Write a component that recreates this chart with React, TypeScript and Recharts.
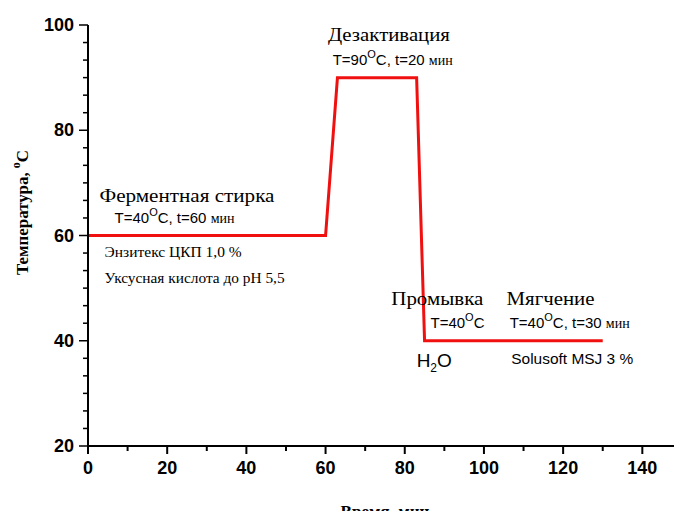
import React from "react";
import { LineChart, Line, XAxis, YAxis, ReferenceDot, Label } from "recharts";

// режим обработки: время (мин) и температура (°C)
const TIME = [0, 60, 63, 83, 85, 130];
const TEMP = [60, 60, 90, 90, 40, 40];

const X_TICKS = [0, 10, 20, 30, 40, 50, 60, 70, 80, 90, 100, 110, 120, 130, 140];
const X_MAJOR = [0, 20, 40, 60, 80, 100, 120, 140];
const Y_MAJOR = [20, 40, 60, 80, 100];
const Y_MINOR_PER_MAJOR = 6;

const Y_TICKS: number[] = [];
Y_MAJOR.forEach((v, i) => {
  if (i === 0) {
    Y_TICKS.push(v);
    return;
  }
  const prev = Y_MAJOR[i - 1];
  for (let k = 1; k <= Y_MINOR_PER_MAJOR; k++) {
    Y_TICKS.push(prev + ((v - prev) * k) / Y_MINOR_PER_MAJOR);
  }
});

const data = TIME.map((t, i) => ({ t, temp: TEMP[i] }));

const SERIF = "'Liberation Serif', 'Times New Roman', serif";
const SANS = "'Liberation Sans', Arial, sans-serif";

type Seg = { text: string; font?: string; size?: number; dy?: number };

// подписи этапов (x, y в координатах графика), w - ширина текста в px
const ANNOTATIONS: { x: number; y: number; w?: number; segs: Seg[] }[] = [
  { x: 60.6, y: 96.9, w: 122, segs: [{ text: "Дезактивация", font: SERIF, size: 19 }] },
  {
    x: 61.8,
    y: 92.4,
    segs: [
      { text: "T=90" },
      { text: "O", size: 11, dy: -7 },
      { text: "C, t=20 ", dy: 7 },
      { text: "мин", font: SERIF, size: 14 },
    ],
  },
  { x: 2.9, y: 66.3, w: 175, segs: [{ text: "Ферментная стирка", font: SERIF, size: 19 }] },
  {
    x: 6.7,
    y: 62.4,
    segs: [
      { text: "T=40" },
      { text: "O", size: 11, dy: -7 },
      { text: "C, t=60 ", dy: 7 },
      { text: "мин", font: SERIF, size: 14 },
    ],
  },
  { x: 4.2, y: 55.9, w: 137, segs: [{ text: "Энзитекс ЦКП 1,0 %", font: SERIF, size: 14 }] },
  { x: 4.2, y: 50.9, w: 180, segs: [{ text: "Уксусная кислота до pH 5,5", font: SERIF, size: 14 }] },
  { x: 76.6, y: 46.7, w: 92, segs: [{ text: "Промывка", font: SERIF, size: 19 }] },
  { x: 105.7, y: 46.7, w: 88, segs: [{ text: "Мягчение", font: SERIF, size: 19 }] },
  {
    x: 86.5,
    y: 42.4,
    segs: [{ text: "T=40" }, { text: "O", size: 11, dy: -7 }, { text: "C", dy: 7 }],
  },
  {
    x: 106.5,
    y: 42.4,
    segs: [
      { text: "T=40" },
      { text: "O", size: 11, dy: -7 },
      { text: "C, t=30 ", dy: 7 },
      { text: "мин", font: SERIF, size: 14 },
    ],
  },
  {
    x: 83,
    y: 35,
    segs: [
      { text: "H", size: 19 },
      { text: "2", size: 12, dy: 5 },
      { text: "O", size: 19, dy: -5 },
    ],
  },
  { x: 106.9, y: 35.5, w: 122, segs: [{ text: "Solusoft MSJ 3 %", size: 15 }] },
];

const RichText = ({ viewBox, segs, w }: any) => {
  const { x, y } = viewBox;
  const stretch = w ? { textLength: w, lengthAdjust: "spacingAndGlyphs" } : {};
  return (
    <text x={x} y={y} fill="#000" {...stretch}>
      {segs.map((s: Seg, i: number) => (
        <tspan
          key={i}
          fontFamily={s.font || SANS}
          fontSize={s.size || 15}
          dy={s.dy || 0}
        >
          {s.text}
        </tspan>
      ))}
    </text>
  );
};

const XTick = (props: any) => {
  const { x, y, payload } = props;
  const major = X_MAJOR.includes(payload.value);
  return (
    <g>
      <line x1={x} y1={y} x2={x} y2={y + (major ? 8 : 5)} stroke="#000" strokeWidth={2} />
      {major && (
        <text
          x={x}
          y={y + 28}
          textAnchor="middle"
          fontFamily={SANS}
          fontWeight="bold"
          fontSize={18}
          fill="#000"
        >
          {payload.value}
        </text>
      )}
    </g>
  );
};

const YTick = (props: any) => {
  const { x, y, payload } = props;
  const major = Y_MAJOR.some((m) => Math.abs(m - payload.value) < 1e-6);
  return (
    <g>
      <line x1={x} y1={y} x2={x - (major ? 9 : 5)} y2={y} stroke="#000" strokeWidth={1.5} />
      {major && (
        <text
          x={x - 14}
          y={y + 6}
          textAnchor="end"
          fontFamily={SANS}
          fontWeight="bold"
          fontSize={18}
          fill="#000"
        >
          {Math.round(payload.value)}
        </text>
      )}
    </g>
  );
};

export default function App() {
  return (
    <div style={{ position: "absolute", left: 0, top: 0, background: "#fff" }}>
      <LineChart
        width={676}
        height={511}
        data={data}
        margin={{ top: 25, right: 2, left: 0, bottom: 0 }}
      >
        <XAxis
          dataKey="t"
          type="number"
          domain={[0, 148]}
          ticks={X_TICKS}
          interval={0}
          tickSize={0}
          tickMargin={0}
          tick={<XTick />}
          axisLine={{ stroke: "#000", strokeWidth: 2 }}
          height={65}
        >
          <Label
            content={(p: any) => (
              <text
                x={p.viewBox.x + 297}
                y={p.viewBox.y + 71}
                textAnchor="middle"
                fontFamily={SERIF}
                fontWeight="bold"
                fontSize={17}
                fill="#000"
              >
                Время, мин
              </text>
            )}
          />
        </XAxis>
        <YAxis
          type="number"
          domain={[20, 100]}
          ticks={Y_TICKS}
          interval={0}
          tickSize={0}
          tickMargin={0}
          tick={<YTick />}
          axisLine={{ stroke: "#000", strokeWidth: 2 }}
          width={88}
        >
          <Label
            content={(p: any) => {
              const cx = p.viewBox.x + 22;
              const cy = p.viewBox.y + p.viewBox.height / 2 - 23;
              return (
                <text
                  x={cx}
                  y={cy}
                  transform={`rotate(-90 ${cx} ${cy})`}
                  textAnchor="middle"
                  dominantBaseline="central"
                  fontFamily={SERIF}
                  fontWeight="bold"
                  fontSize={17}
                  fill="#000"
                  textLength={125}
                  lengthAdjust="spacingAndGlyphs"
                >
                  <tspan>Температура, </tspan>
                  <tspan fontSize={12} dy={-6}>o</tspan>
                  <tspan dy={6}>C</tspan>
                </text>
              );
            }}
          />
        </YAxis>
        <Line
          type="linear"
          dataKey="temp"
          stroke="#f01010"
          strokeWidth={3}
          dot={false}
          isAnimationActive={false}
        />
        {ANNOTATIONS.map((a, i) => (
          <ReferenceDot
            key={i}
            x={a.x}
            y={a.y}
            r={0}
            fill="none"
            stroke="none"
            ifOverflow="visible"
            label={(p: any) => <RichText viewBox={p.viewBox} segs={a.segs} w={a.w} />}
          />
        ))}
      </LineChart>
    </div>
  );
}
